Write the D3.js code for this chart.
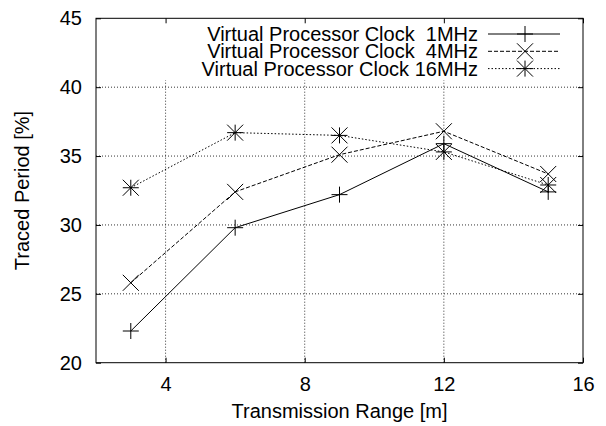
<!DOCTYPE html>
<html>
<head>
<meta charset="utf-8">
<script src="https://cdn.jsdelivr.net/npm/d3@7"></script>
<style>
    body { margin: 0; background: #fff; }
    svg { display: block; font-family: "Liberation Sans", Arial, Helvetica, sans-serif; }
    text { white-space: pre; }
</style>
</head>
<body>
<div id="chart"></div>
<script>
(function(d3) {
    'use strict';

    // Data
    var ranges = [3, 6, 9, 12, 15];
    var clock1 = [22.3, 29.8, 32.2, 35.9, 32.4];
    var clock4 = [25.8, 32.4, 35.1, 36.8, 33.7];
    var clock16 = [32.7, 36.7, 36.5, 35.3, 32.9];
    var seriesNames = ['Virtual Processor Clock  1MHz', 'Virtual Processor Clock  4MHz', 'Virtual Processor Clock 16MHz'];

    var xTicks = [4, 8, 12, 16];
    var yTicks = [20, 25, 30, 35, 40, 45];
    var xGrid = [4, 8, 12];
    var yGrid = [25, 30, 35, 40];

    var width = 606,
        height = 426;

    // Plot area edges
    var plot = {left: 96, right: 583, top: 18.3, bottom: 362.7};

    var x = d3.scaleLinear().domain([2, 16]).range([plot.left, plot.right]);
    var y = d3.scaleLinear().domain([20, 45]).range([plot.bottom, plot.top]);

    // Marker shapes (gnuplot point types 1, 2, 3)
    var s = 8;
    var plus = 'M' + (-s) + ',0H' + s + 'M0,' + (-s) + 'V' + s;
    var cross = 'M' + (-s) + ',' + (-s) + 'L' + s + ',' + s + 'M' + (-s) + ',' + s + 'L' + s + ',' + (-s);

    var series = [
        {name: seriesNames[0], values: clock1, dash: null, marker: plus},
        {name: seriesNames[1], values: clock4, dash: '4,2', marker: cross},
        {name: seriesNames[2], values: clock16, dash: '1.5,2', marker: plus + cross}
    ];

    var svg = d3.select('#chart').append('svg')
        .attr('width', width)
        .attr('height', height);

    svg.append('rect')
        .attr('width', width)
        .attr('height', height)
        .attr('fill', '#fff');

    // Grid lines
    var grid = svg.append('g').attr('class', 'grid')
        .attr('stroke', '#000')
        .attr('stroke-width', 0.8)
        .attr('stroke-dasharray', '1,2');

    grid.selectAll('line.gx')
        .data(xGrid)
        .enter().append('line')
        .attr('class', 'gx')
        .attr('x1', function(d) { return x(d); })
        .attr('x2', function(d) { return x(d); })
        .attr('y1', plot.bottom)
        .attr('y2', plot.top);

    grid.selectAll('line.gy')
        .data(yGrid)
        .enter().append('line')
        .attr('class', 'gy')
        .attr('x1', plot.left)
        .attr('x2', plot.right)
        .attr('y1', function(d) { return y(d); })
        .attr('y2', function(d) { return y(d); });

    // Opaque key background
    svg.append('rect')
        .attr('x', 150)
        .attr('y', plot.top)
        .attr('width', plot.right - 150)
        .attr('height', 62)
        .attr('fill', '#fff');

    // Data lines and markers
    var line = d3.line()
        .x(function(d, i) { return x(ranges[i]); })
        .y(function(d) { return y(d); });

    series.forEach(function(ser) {
        svg.append('path')
            .datum(ser.values)
            .attr('d', line)
            .attr('fill', 'none')
            .attr('stroke', '#000')
            .attr('stroke-width', 1)
            .attr('stroke-dasharray', ser.dash);

        svg.append('g').selectAll('path')
            .data(ser.values)
            .enter().append('path')
            .attr('d', ser.marker)
            .attr('transform', function(d, i) { return 'translate(' + x(ranges[i]) + ',' + y(d) + ')'; })
            .attr('fill', 'none')
            .attr('stroke', '#000')
            .attr('stroke-width', 1);
    });

    // Key
    var key = svg.append('g').attr('class', 'key');
    var keyRows = key.selectAll('g')
        .data(series)
        .enter().append('g')
        .attr('transform', function(d, i) { return 'translate(0,' + (34 + i * 17.3) + ')'; });

    keyRows.append('text')
        .attr('x', 478)
        .attr('dy', '0.35em')
        .attr('text-anchor', 'end')
        .attr('font-size', 20)
        .attr('fill', '#000')
        .text(function(d) { return d.name; });

    keyRows.append('line')
        .attr('x1', 488)
        .attr('x2', 560)
        .attr('stroke', '#000')
        .attr('stroke-width', 1)
        .attr('stroke-dasharray', function(d) { return d.dash; });

    keyRows.append('path')
        .attr('d', function(d) { return d.marker; })
        .attr('transform', 'translate(525,0)')
        .attr('fill', 'none')
        .attr('stroke', '#000')
        .attr('stroke-width', 1);

    // Axes
    function styleAxis(g) {
        g.select('.domain').remove();
        g.selectAll('.tick line').attr('stroke', '#000').attr('stroke-width', 1);
        g.selectAll('.tick text').attr('font-size', 20).attr('fill', '#000');
        g.attr('font-family', null).attr('font-size', null);
    }

    svg.append('g')
        .attr('transform', 'translate(' + plot.left + ',0)')
        .call(d3.axisLeft(y).tickValues(yTicks).tickSizeInner(-5).tickSizeOuter(0).tickPadding(14))
        .call(styleAxis);

    svg.append('g')
        .attr('transform', 'translate(' + plot.right + ',0)')
        .call(d3.axisRight(y).tickValues(yTicks).tickSizeInner(-5).tickSizeOuter(0).tickFormat(''))
        .call(styleAxis);

    svg.append('g')
        .attr('transform', 'translate(0,' + plot.bottom + ')')
        .call(d3.axisBottom(x).tickValues(xTicks).tickSizeInner(-5).tickSizeOuter(0).tickPadding(14))
        .call(styleAxis);

    svg.append('g')
        .attr('transform', 'translate(0,' + plot.top + ')')
        .call(d3.axisTop(x).tickValues(xTicks).tickSizeInner(-5).tickSizeOuter(0).tickFormat(''))
        .call(styleAxis);

    // Border
    svg.append('rect')
        .attr('x', plot.left)
        .attr('y', plot.top)
        .attr('width', plot.right - plot.left)
        .attr('height', plot.bottom - plot.top)
        .attr('fill', 'none')
        .attr('stroke', '#000')
        .attr('stroke-width', 1);

    // Axis titles
    svg.append('text')
        .attr('x', (plot.left + plot.right) / 2)
        .attr('y', 418)
        .attr('text-anchor', 'middle')
        .attr('font-size', 20)
        .attr('fill', '#000')
        .text('Transmission Range [m]');

    svg.append('text')
        .attr('transform', 'translate(29,' + ((plot.top + plot.bottom) / 2) + ') rotate(-90)')
        .attr('text-anchor', 'middle')
        .attr('font-size', 20)
        .attr('fill', '#000')
        .text('Traced Period [%]');

}(d3));
</script>
</body>
</html>
